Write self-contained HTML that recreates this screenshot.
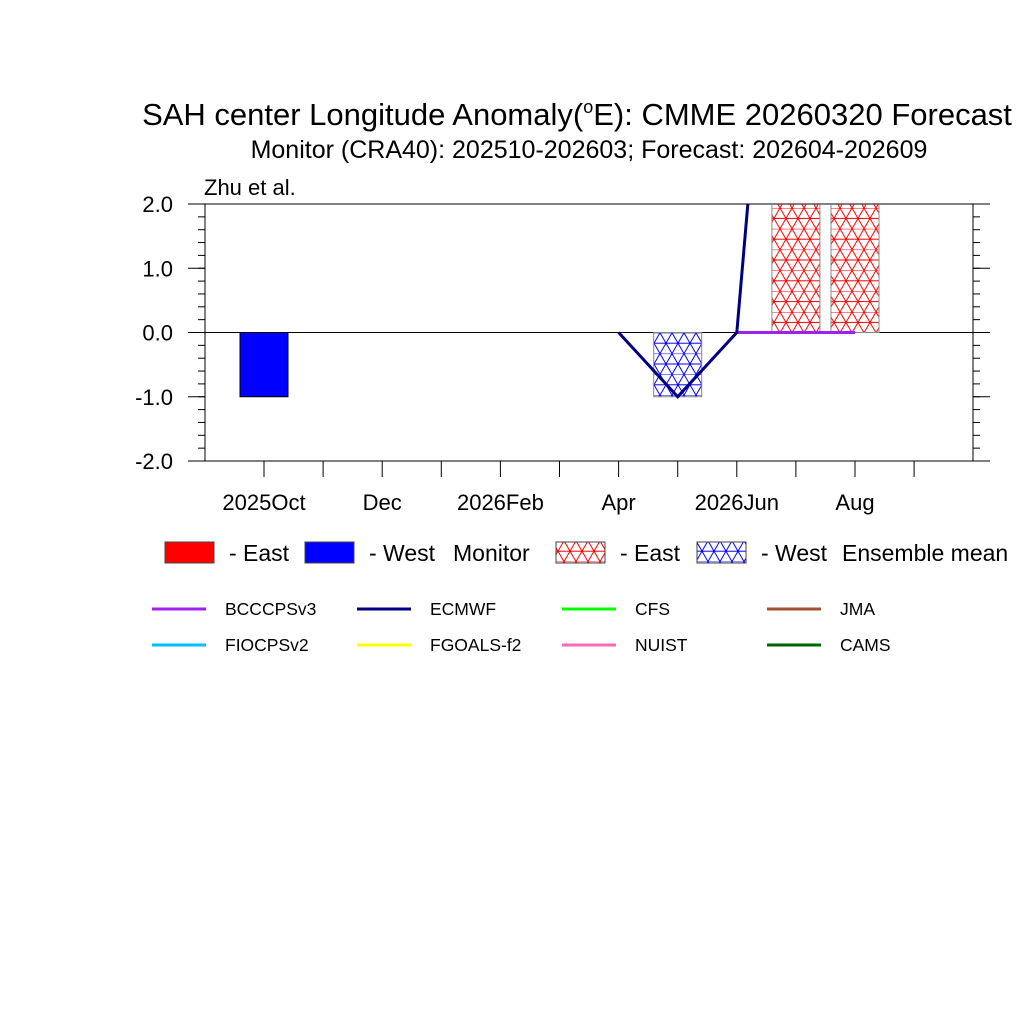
<!DOCTYPE html>
<html><head><meta charset="utf-8"><style>
html,body{margin:0;padding:0;background:#fff;}
svg{display:block;font-family:"Liberation Sans",sans-serif;}
</style></head><body>
<svg id="chart" width="1024" height="1024" viewBox="0 0 1024 1024">
<defs>
<pattern id="hatchR" width="12" height="20.8" patternUnits="userSpaceOnUse">
<path d="M0 0H12M0 10.4H12M0 0L12 20.8M12 0L0 20.8M-6 10.4L0 20.8M6 -10.4L18 10.4M6 31.2L18 10.4M-6 10.4L6 -10.4" stroke="#f00" stroke-width="1" fill="none"/>
</pattern>
<pattern id="hatchB" width="12" height="20.8" patternUnits="userSpaceOnUse">
<path d="M0 0H12M0 10.4H12M0 0L12 20.8M12 0L0 20.8M-6 10.4L0 20.8M6 -10.4L18 10.4M6 31.2L18 10.4M-6 10.4L6 -10.4" stroke="#00f" stroke-width="1" fill="none"/>
</pattern>
<clipPath id="plotclip"><rect x="205" y="204" width="768" height="257"/></clipPath>
</defs>
<text x="577" y="125" font-size="31" text-anchor="middle">SAH center Longitude Anomaly(<tspan font-size="18" dy="-12">o</tspan><tspan dy="12">E): CMME 20260320 Forecast</tspan></text>
<text x="589" y="158" font-size="25" text-anchor="middle">Monitor (CRA40): 202510-202603; Forecast: 202604-202609</text>
<text x="204" y="195" font-size="22">Zhu et al.</text>
<g id="axes"></g>
<g id="bars" clip-path="url(#plotclip)"></g>
<g id="lines" clip-path="url(#plotclip)"></g>
<g id="legend"></g>
</svg>
<script>
const months = ["2025Oct","Nov","Dec","2026Jan","2026Feb","Mar","Apr","May","2026Jun","Jul","Aug","Sep"];
const tickLabels = ["2025Oct","","Dec","","2026Feb","","Apr","","2026Jun","","Aug",""];
const yTicks = [-2,-1,0,1,2];
const monitorValues = [-1,0,0,0,0,0];
const ensembleValues = [null,null,null,null,null,null,0,-1,0,2.5,2.5,null];
const ecmwfValues = [null,null,null,null,null,null,0,-1,0,10.7,null,null];
const bcccpsValues = [null,null,null,null,null,null,null,null,0,0,0,null];
const NS="http://www.w3.org/2000/svg";
const X0=205,X1=973,Y0=204,Y1=461;
function xs(i){return 264+i*59.1;}
function ys(v){return 332.5-v*64.25;}
function mk(tag,attrs,parent){const e=document.createElementNS(NS,tag);for(const k in attrs)e.setAttribute(k,attrs[k]);parent.appendChild(e);return e;}
const axes=document.getElementById('axes');
let e;
e=mk('rect',{x:X0,y:Y0,width:X1-X0,height:Y1-Y0,fill:'none',stroke:'#000','stroke-width':1},axes);


yTicks.forEach(v=>{
  const y=ys(v);
  mk('line',{x1:188,x2:X0,y1:y,y2:y,stroke:'#000'},axes);
  mk('line',{x1:X1,x2:990,y1:y,y2:y,stroke:'#000'},axes);
  const t=mk('text',{x:173,y:y+8,'font-size':22,'text-anchor':'end'},axes);
  t.textContent=v.toFixed(1);
  
  
});
for(let v=-2;v<2;v+=0.2){const y=ys(v);mk('line',{x1:198,x2:X0,y1:y,y2:y,stroke:'#000'},axes);mk('line',{x1:X1,x2:980,y1:y,y2:y,stroke:'#000'},axes);}
months.forEach((m,i)=>{
  const x=xs(i);
  mk('line',{x1:x,x2:x,y1:Y1,y2:477,stroke:'#000'},axes);
  if(tickLabels[i]){const t=mk('text',{x:x,y:510,'font-size':22,'text-anchor':'middle'},axes);t.textContent=tickLabels[i];
  
  }
});
const bars=document.getElementById('bars');
const bw=48;
monitorValues.forEach((v,i)=>{
  if(v===0||v==null)return;
  const y=Math.min(ys(0),ys(v)),h=Math.abs(ys(v)-ys(0));
  const r=mk('rect',{x:xs(i)-bw/2,y:y,width:bw,height:h,fill:v>0?'#f00':'#00f',stroke:'#000','stroke-width':1},bars);
  
  
});
ensembleValues.forEach((v,i)=>{
  if(v===0||v==null)return;
  const y=Math.min(ys(0),ys(v)),h=Math.abs(ys(v)-ys(0));
  const r=mk('rect',{x:xs(i)-bw/2,y:y,width:bw,height:h,fill:v>0?'url(#hatchR)':'url(#hatchB)',stroke:'#888','stroke-width':1},bars);
  
  
});
const lines=document.getElementById('lines');
function drawLine(vals,color,name){
  let pts=[];vals.forEach((v,i)=>{if(v!=null)pts.push(xs(i)+','+ys(v));});
  const p=mk('polyline',{points:pts.join(' '),fill:'none',stroke:color,'stroke-width':3},lines);
  
  
}
drawLine(bcccpsValues,'#a020f0','bcccpsv3-line');
drawLine(ecmwfValues,'#000080','ecmwf-line');
e=mk('line',{x1:X0,x2:X1,y1:ys(0),y2:ys(0),stroke:'#000','stroke-width':1},axes);


const lg=document.getElementById('legend');
const boxes=[[165,'#f00','- East','legend-monitor-east'],[305,'#00f','- West','legend-monitor-west'],[556,'url(#hatchR)','- East','legend-ensemble-east'],[697,'url(#hatchB)','- West','legend-ensemble-west']];
boxes.forEach(b=>{
  const r=mk('rect',{x:b[0],y:542,width:49,height:21,fill:b[1],stroke:'#444'},lg);
  
  
  const t=mk('text',{x:b[0]+64,y:561,'font-size':23},lg);t.textContent=b[2];
});
let t=mk('text',{x:453,y:561,'font-size':23},lg);t.textContent='Monitor';
t=mk('text',{x:842,y:561,'font-size':23},lg);t.textContent='Ensemble mean';
const models=[['BCCCPSv3','#a020f0'],['ECMWF','#000080'],['CFS','#00ff00'],['JMA','#a0522d'],['FIOCPSv2','#00bfff'],['FGOALS-f2','#ffff00'],['NUIST','#ff69b4'],['CAMS','#006400']];
models.forEach((m,i)=>{
  const col=i%4,row=Math.floor(i/4);
  const x=152+col*205,y=609+row*36;
  const l=mk('line',{x1:x,x2:x+54,y1:y,y2:y,stroke:m[1],'stroke-width':3},lg);
  
  
  const tt=mk('text',{x:x+73,y:y+6,'font-size':17.5},lg);tt.textContent=m[0];
});
</script>
</body></html>
